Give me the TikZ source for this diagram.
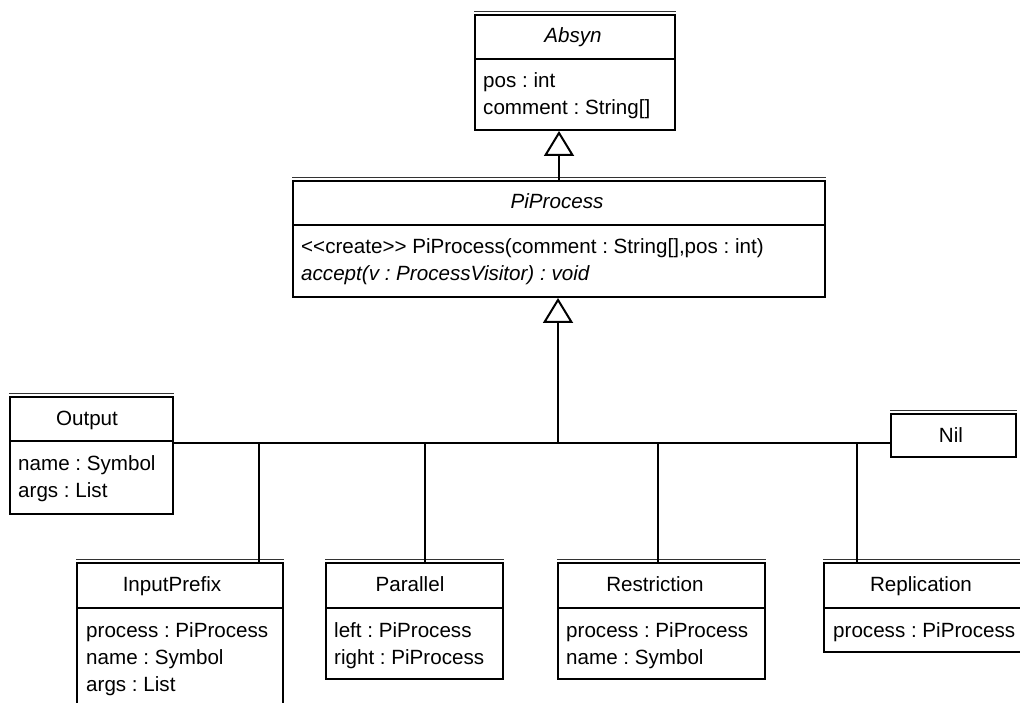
\documentclass[tikz,border=0pt]{standalone}
\usepackage{fontspec}
\setmainfont{Liberation Sans}
\usetikzlibrary{arrows.meta}
\frenchspacing

\tikzset{
  cls/.style={draw, line width=2pt, inner sep=0, anchor=north west},
  ttl/.style={anchor=base, inner sep=0},
  attr/.style={anchor=base west, inner sep=0},
  gen/.style={-{Triangle[open, width=30pt, length=25pt]}, line width=2pt},
  every node/.style={font=\fontsize{20.6pt}{27pt}\selectfont}
}

% name, x, y, width, height, header height
\newcommand{\classbox}[6]{%
  \node[cls, minimum width=#4pt, minimum height=#5pt] (#1) at (#2,#3) {};
  \draw[line width=0.8pt, black!80] ([yshift=2.4pt]#1.north west) -- ([yshift=2.4pt]#1.north east);
  \ifx&#6&\else
  \draw[line width=2pt] ([yshift=-#6pt]#1.north west) -- ([yshift=-#6pt]#1.north east);
  \fi
}

\begin{document}
\begin{tikzpicture}[x=1pt, y=-1pt]
\useasboundingbox (0,0) rectangle (1020,703);
\clip (0,0) rectangle (1020,703);

\classbox{absyn}{474}{14}{200}{115}{45}
\classbox{piprocess}{292}{180}{532}{116}{45}
\classbox{output}{9}{396}{163}{117}{45}
\classbox{nil}{890}{413}{125}{43}{}
\classbox{inputprefix}{76}{562}{206}{160}{46}
\classbox{parallel}{325}{562}{177}{116}{46}
\classbox{restriction}{557}{562}{207}{116}{46}
\classbox{replication}{823}{562}{210}{89}{46}

% titles
\node[ttl] (absyn-t) at (573,43) {\itshape Absyn};
\node[ttl] (piprocess-t) at (557,209) {\itshape PiProcess};
\node[ttl] (output-t) at (87,425) {Output};
\node[ttl] (nil-t) at (951,442) {Nil};
\node[ttl] (inputprefix-t) at (172,591) {InputPrefix};
\node[ttl] (parallel-t) at (410,591) {Parallel};
\node[ttl] (restriction-t) at (655,591) {Restriction};
\node[ttl] (replication-t) at (921,591) {Replication};

% attributes and operations
\node[attr] (absyn-a1) at (483,88) {pos : int};
\node[attr] (absyn-a2) at (483,115) {comment : String[]};
\node[attr] (piprocess-o1) at (301,254) {<{}<create>{}> PiProcess(comment : String[],pos : int)};
\node[attr] (piprocess-o2) at (301,281) {\itshape accept(v : ProcessVisitor) : void};
\node[attr] (output-a1) at (18,470) {name : Symbol};
\node[attr] (output-a2) at (18,497) {args : List};
\node[attr] (inputprefix-a1) at (86,637) {process : PiProcess};
\node[attr] (inputprefix-a2) at (86,664) {name : Symbol};
\node[attr] (inputprefix-a3) at (86,691) {args : List};
\node[attr] (parallel-a1) at (334,637) {left : PiProcess};
\node[attr] (parallel-a2) at (334,664) {right : PiProcess};
\node[attr] (restriction-a1) at (566,637) {process : PiProcess};
\node[attr] (restriction-a2) at (566,664) {name : Symbol};
\node[attr] (replication-a1) at (833,637) {process : PiProcess};

% generalisation
\draw[gen] (piprocess.north) -- (piprocess.north |- absyn.south);
\coordinate (bus) at (558,443);
\draw[gen] (bus) -- (bus |- piprocess.south);
\draw[line width=2pt] (output.east |- bus) -- (bus -| nil.west);

\coordinate (b1) at (259,443);
\coordinate (b2) at (425,443);
\coordinate (b3) at (658,443);
\coordinate (b4) at (857,443);
\draw[line width=2pt] (b1) -- (b1 |- inputprefix.north);
\draw[line width=2pt] (b2) -- (b2 |- parallel.north);
\draw[line width=2pt] (b3) -- (b3 |- restriction.north);
\draw[line width=2pt] (b4) -- (b4 |- replication.north);
\end{tikzpicture}
\end{document}
